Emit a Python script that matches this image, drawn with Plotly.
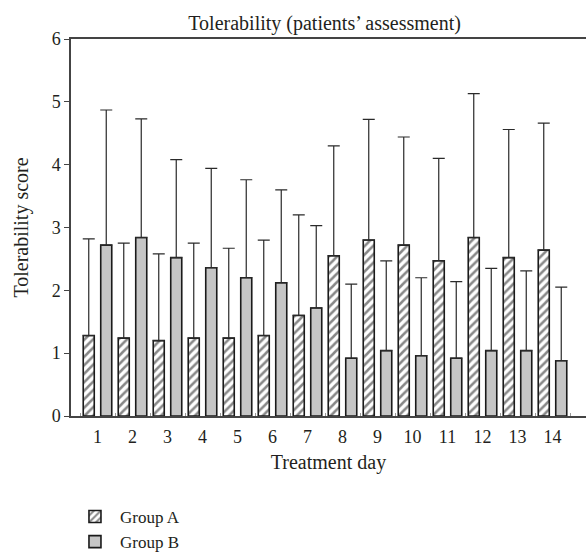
import plotly.graph_objects as go

days = list(range(1, 15))
group_a = [1.28, 1.24, 1.20, 1.24, 1.24, 1.28, 1.60, 2.55, 2.80, 2.72, 2.47, 2.84, 2.52, 2.64]
group_a_err_top = [2.82, 2.75, 2.58, 2.75, 2.67, 2.80, 3.20, 4.30, 4.72, 4.44, 4.10, 5.13, 4.56, 4.66]
group_b = [2.72, 2.84, 2.52, 2.36, 2.20, 2.12, 1.72, 0.92, 1.04, 0.96, 0.92, 1.04, 1.04, 0.88]
group_b_err_top = [4.87, 4.73, 4.08, 3.94, 3.76, 3.60, 3.03, 2.10, 2.47, 2.20, 2.14, 2.35, 2.31, 2.05]

err_a = [t - m for t, m in zip(group_a_err_top, group_a)]
err_b = [t - m for t, m in zip(group_b_err_top, group_b)]

FONT = "Liberation Serif"
TXT = "#231f20"

fig = go.Figure()
fig.add_trace(go.Bar(
    x=days, y=group_a, name="Group A",
    marker=dict(color="white", line=dict(color="#1a1a1a", width=1.6),
                pattern=dict(shape="/", fgcolor="#111111", bgcolor="white", size=6, solidity=0.42)),
    error_y=dict(type="data", array=err_a, arrayminus=[0]*14, symmetric=False,
                 color="#2a2a2a", thickness=1.2, width=6),
))
fig.add_trace(go.Bar(
    x=days, y=group_b, name="Group B",
    marker=dict(color="#c6c6c6", line=dict(color="#1a1a1a", width=1.6)),
    error_y=dict(type="data", array=err_b, arrayminus=[0]*14, symmetric=False,
                 color="#2a2a2a", thickness=1.2, width=6),
))

fig.update_layout(
    width=587, height=552,
    margin=dict(l=71, r=1, t=39, b=136, autoexpand=False),
    paper_bgcolor="white", plot_bgcolor="white",
    barmode="group", bargap=0.0, bargroupgap=0.37,
    font=dict(family=FONT, size=18, color=TXT),
    title=dict(text="Tolerability (patients’ assessment)", x=0.553, xanchor="center",
               y=0.958, yanchor="middle", font=dict(family=FONT, size=20, color=TXT)),
    showlegend=True,
    legend=dict(x=-0.002, y=-0.22, xanchor="left", yanchor="top", orientation="v",
                font=dict(family=FONT, size=17, color=TXT),
                tracegroupgap=0, itemwidth=40, bgcolor="rgba(0,0,0,0)"),
    xaxis=dict(range=[0.243, 14.957], tickvals=days, ticktext=[str(d) for d in days],
               showline=True, linecolor="#444444", linewidth=1.5, mirror=True,
               ticks="outside", ticklen=4, tickcolor="rgba(0,0,0,0)",
               showgrid=False, zeroline=False,
               tickfont=dict(family=FONT, size=18, color=TXT),
               title=dict(text="Treatment day", standoff=9,
                          font=dict(family=FONT, size=20, color=TXT)),
               minor=dict(ticks="inside", tick0=0.5, dtick=1, ticklen=3,
                          tickcolor="#999999", showgrid=False)),
    yaxis=dict(range=[0, 6], dtick=1, showline=True, linecolor="#444444", linewidth=1.5,
               mirror=False, ticks="outside", ticklen=5, tickcolor="#444444",
               showgrid=False, zeroline=False,
               tickfont=dict(family=FONT, size=18, color=TXT),
               title=dict(text="Tolerability score", standoff=18,
                          font=dict(family=FONT, size=20, color=TXT))),
)

fig.write_html("out.html")
